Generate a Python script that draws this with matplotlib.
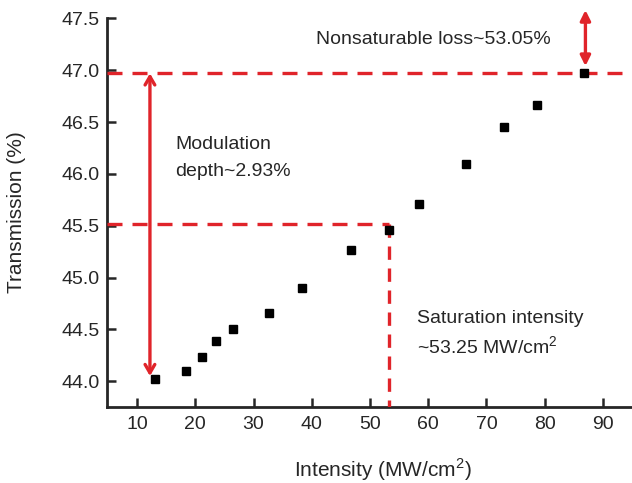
import matplotlib
matplotlib.use("Agg")
import matplotlib.pyplot as plt

plt.rcParams['font.family'] = ['Liberation Sans', 'DejaVu Sans']
plt.rcParams['mathtext.fontset'] = 'custom'
plt.rcParams['mathtext.rm'] = 'Liberation Sans'

intensity = [13.1, 18.4, 21.2, 23.5, 26.5, 32.7, 38.4, 46.8, 53.2, 58.5, 66.5, 73.1, 78.7, 86.8]
transmission = [44.02, 44.10, 44.23, 44.39, 44.50, 44.66, 44.90, 45.27, 45.46, 45.71, 46.10, 46.45, 46.66, 46.97]

max_T = 46.97
sat_T = 45.52
sat_I = 53.3
xticks = [10, 20, 30, 40, 50, 60, 70, 80, 90]
yticks = [44.0, 44.5, 45.0, 45.5, 46.0, 46.5, 47.0, 47.5]

red = '#e0242a'
txt = '#262626'

fig = plt.figure(figsize=(6.32, 4.83), dpi=100)
ax = fig.add_axes([0.170, 0.158, 0.830, 0.804])
ax.set_xlim(4.9, 95)
ax.set_ylim(43.755, 47.5)

ax.plot(intensity, transmission, 's', color='black', markersize=6.2, zorder=5)

dash = (0, (4.5, 3.0))
ax.plot([4.9, 95], [max_T, max_T], color=red, lw=2.4, linestyle=dash, zorder=3, clip_on=False)
ax.plot([4.9, sat_I], [sat_T, sat_T], color=red, lw=2.4, linestyle=dash, zorder=3)
ax.plot([sat_I, sat_I], [sat_T, 43.755], color=red, lw=2.4, linestyle=(0, (4.0, 2.6)), zorder=3)

ax.annotate('', xy=(12.2, 46.97), xytext=(12.2, 44.05),
            arrowprops=dict(arrowstyle='<->,head_length=0.6,head_width=0.35', color=red, lw=2.4,
                            shrinkA=0, shrinkB=0))
ax.annotate('', xy=(87.0, 47.58), xytext=(87.0, 47.04),
            arrowprops=dict(arrowstyle='<|-|>,head_length=0.6,head_width=0.3', color=red, lw=2.4,
                            shrinkA=0, shrinkB=0), annotation_clip=False)

fs = 14
ax.text(40.7, 47.30, 'Nonsaturable loss~53.05%', fontsize=fs, color=txt, va='center', ha='left')
ax.text(16.6, 46.28, 'Modulation', fontsize=fs, color=txt, va='center', ha='left')
ax.text(16.6, 46.02, 'depth~2.93%', fontsize=fs, color=txt, va='center', ha='left')
ax.text(58.1, 44.61, 'Saturation intensity', fontsize=fs, color=txt, va='center', ha='left')
ax.text(58.1, 44.33, '~53.25 MW/cm$^2$', fontsize=fs, color=txt, va='center', ha='left')

ax.set_xticks(xticks)
ax.set_xticklabels([str(v) for v in xticks])
ax.set_yticks(yticks)
ax.set_yticklabels([f'{v:.1f}' for v in yticks])
ax.tick_params(direction='in', length=6.5, width=1.8, colors=txt, labelsize=14)
ax.tick_params(axis='y', pad=5.5)
ax.tick_params(axis='x', pad=7)

for s in ['top', 'right']:
    ax.spines[s].set_visible(False)
for s in ['left', 'bottom']:
    ax.spines[s].set_linewidth(2.0)
    ax.spines[s].set_color(txt)

ax.set_xlabel('Intensity (MW/cm$^2$)', fontsize=15, color=txt)
ax.set_ylabel('Transmission (%)', fontsize=15, color=txt)
ax.xaxis.set_label_coords(0.525, -0.128)
ax.yaxis.set_label_coords(-0.155, 0.5)

fig.savefig('out.png', dpi=100)
